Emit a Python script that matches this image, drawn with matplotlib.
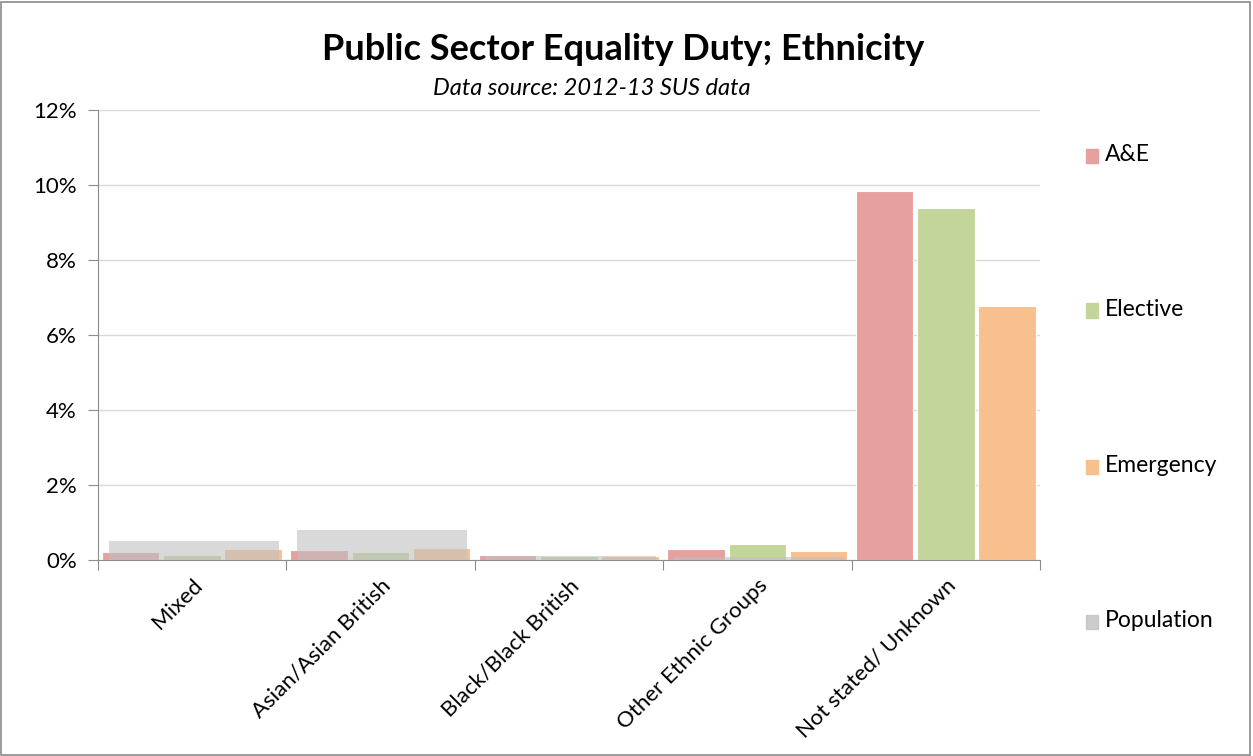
import numpy as np
import matplotlib.pyplot as plt
from matplotlib.patches import Rectangle
from matplotlib.ticker import FuncFormatter

plt.rcParams['font.family'] = ['Lato', 'DejaVu Sans']

categories = ['Mixed', 'Asian/Asian British', 'Black/Black British',
              'Other Ethnic Groups', 'Not stated/ Unknown']
ae = [0.20, 0.27, 0.12, 0.29, 9.84]
elective = [0.13, 0.21, 0.10, 0.42, 9.39]
emergency = [0.29, 0.32, 0.10, 0.23, 6.77]
population = [0.50, 0.80, 0.10, 0.08, 0.0]

colors = {'A&E': '#e6a19f', 'Elective': '#c4d59b', 'Emergency': '#f8bf8f',
          'Population': '#c0c0c0'}

fig = plt.figure(figsize=(12.53, 7.56), dpi=100)
ax = fig.add_axes([0.078, 0.2593, 0.752, 0.5952])

x = np.arange(len(categories))
w = 0.305
series = [('A&E', ae), ('Elective', elective), ('Emergency', emergency)]
for i, (name, vals) in enumerate(series):
    ax.bar(x + (i - 1) * (w + 0.02), vals, width=w, color=colors[name],
           edgecolor='white', linewidth=0.8, zorder=2, label=name)
ax.bar(x + 0.01, population, width=0.9, color=colors['Population'],
       alpha=0.6, edgecolor='none', zorder=3, label='Population')

ax.set_xlim(-0.5, len(categories) - 0.5)
ax.set_ylim(0, 12)
ax.set_yticks(np.arange(0, 13, 2))
ax.yaxis.set_major_formatter(FuncFormatter(lambda v, p: f'{v:.0f}%'))
ax.grid(axis='y', color='#d9d9d9', linewidth=1, zorder=0)
ax.set_axisbelow(True)

ax.set_xticks(np.arange(-0.5, len(categories)), minor=False)
ax.set_xticklabels([])
ax.set_xticks(x, minor=True)
ax.set_xticklabels(categories, minor=True, rotation=45, ha='right',
                   rotation_mode='anchor', fontsize=16)
ax.tick_params(axis='x', which='minor', length=0, pad=11)
ax.tick_params(axis='x', which='major', length=7, color='#8c8c8c', direction='out')
ax.tick_params(axis='y', length=7, color='#8c8c8c', labelsize=16, pad=8)

for s in ['top', 'right']:
    ax.spines[s].set_visible(False)
for s in ['left', 'bottom']:
    ax.spines[s].set_color('#8c8c8c')

fig.text(0.497, 0.935, 'Public Sector Equality Duty; Ethnicity', ha='center',
         va='center', fontsize=26, fontweight='bold')
fig.text(0.472, 0.883, 'Data source: 2012-13 SUS data', ha='center',
         va='center', fontsize=17, style='italic')

leg_y = [0.795, 0.591, 0.384, 0.179]
for (name, _), yy in zip(series + [('Population', None)], leg_y):
    fig.patches.append(Rectangle((0.8665, yy - 0.011), 0.0095, 0.019,
                                 transform=fig.transFigure,
                                 color=colors[name], alpha=1.0 if name != 'Population' else 0.8))
    fig.text(0.882, yy, name, ha='left', va='center', fontsize=16.5)

fig.patches.append(Rectangle((0.001, 0.001), 0.997, 0.997, transform=fig.transFigure,
                             fill=False, edgecolor='#8a8a8a', linewidth=1.2))

fig.savefig('out.png', dpi=100)
